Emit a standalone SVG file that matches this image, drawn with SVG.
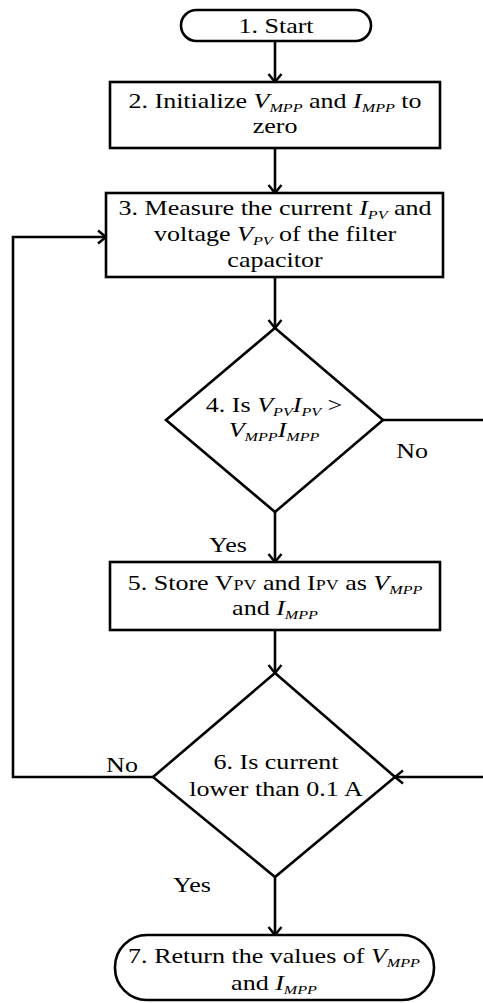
<svg xmlns="http://www.w3.org/2000/svg" width="483" height="1003" viewBox="0 0 483 1003">
<style>
.s{fill:none;stroke:#000;stroke-width:2.6}
.n{fill:#fff;stroke:#000;stroke-width:2.6}
text{font-family:'Liberation Serif','DejaVu Serif',serif;font-size:21px;fill:#000}
.c{text-anchor:middle}
.i{font-style:italic}
.sb{font-style:italic;font-size:13px}
.sc{font-size:14.5px}
</style>
<defs>
<marker id="ah" viewBox="-10 -8 12 16" markerWidth="12" markerHeight="16" refX="0" refY="0" markerUnits="userSpaceOnUse" orient="auto">
<path d="M-8,-6.5 L0,0 L-8,6.5" fill="none" stroke="#000" stroke-width="2.4"/>
</marker>
</defs>
<rect width="483" height="1003" fill="#fff"/>
<g id="connectors" class="s">
<line x1="275" y1="41" x2="275" y2="82" marker-end="url(#ah)"/>
<line x1="275" y1="148" x2="275" y2="193" marker-end="url(#ah)"/>
<line x1="275" y1="277" x2="275" y2="328" marker-end="url(#ah)"/>
<line x1="275" y1="512" x2="275" y2="562" marker-end="url(#ah)"/>
<line x1="275" y1="630" x2="275" y2="673" marker-end="url(#ah)"/>
<path d="M383,420 H486 V777 H395" marker-end="url(#ah)"/>
<path d="M153,777 H13 V237 H106" marker-end="url(#ah)"/>
<line x1="275" y1="877" x2="275" y2="935" marker-end="url(#ah)"/>
</g>
<g id="labels">
<text class="c" x="332.3" y="458" transform="scale(1.24,1)">No</text>
<text class="c" x="183.9" y="552" transform="scale(1.24,1)">Yes</text>
<text class="c" x="98.4" y="772" transform="scale(1.24,1)">No</text>
<text class="c" x="154.8" y="892" transform="scale(1.24,1)">Yes</text>
</g>
<g id="n1">
<rect class="n" x="181" y="10" width="190" height="31" rx="15.5" ry="15.5"/>
<text class="c" x="222.6" y="33" transform="scale(1.24,1)">1. Start</text>
</g>
<g id="n2">
<rect class="n" x="110" y="82" width="330" height="66"/>
<text class="c" x="221.8" y="108" transform="scale(1.24,1)">2. Initialize <tspan class="i">V</tspan><tspan class="sb" dy="4">MPP</tspan><tspan dy="-4"> and </tspan><tspan class="i">I</tspan><tspan class="sb" dy="4">MPP</tspan><tspan dy="-4"> to</tspan></text>
<text class="c" x="221.8" y="133" transform="scale(1.24,1)">zero</text>
</g>
<g id="n3">
<rect class="n" x="106" y="193" width="337" height="84"/>
<text class="c" x="221.8" y="215" transform="scale(1.24,1)">3. Measure the current <tspan class="i">I</tspan><tspan class="sb" dy="4">PV</tspan><tspan dy="-4"> and</tspan></text>
<text class="c" x="221.8" y="241" transform="scale(1.24,1)">voltage <tspan class="i">V</tspan><tspan class="sb" dy="4">PV</tspan><tspan dy="-4"> of the filter</tspan></text>
<text class="c" x="221.8" y="267" transform="scale(1.24,1)">capacitor</text>
</g>
<g id="n4">
<polygon class="n" points="275,328 383,420 275,512 166,420"/>
<text class="c" x="221" y="412" transform="scale(1.24,1)">4. Is <tspan class="i">V</tspan><tspan class="sb" dy="4">PV</tspan><tspan class="i" dy="-4">I</tspan><tspan class="sb" dy="4">PV</tspan><tspan dy="-4"> &gt;</tspan></text>
<text class="c" x="221" y="437" transform="scale(1.24,1)"><tspan class="i">V</tspan><tspan class="sb" dy="4">MPP</tspan><tspan class="i" dy="-4">I</tspan><tspan class="sb" dy="4">MPP</tspan></text>
</g>
<g id="n5">
<rect class="n" x="110" y="562" width="330" height="68"/>
<text class="c" x="221.8" y="590" transform="scale(1.24,1)">5. Store V<tspan class="sc">PV</tspan> and I<tspan class="sc">PV</tspan> as <tspan class="i">V</tspan><tspan class="sb" dy="4">MPP</tspan></text>
<text class="c" x="221.8" y="615" transform="scale(1.24,1)">and <tspan class="i">I</tspan><tspan class="sb" dy="4">MPP</tspan></text>
</g>
<g id="n6">
<polygon class="n" points="275,673 395,777 275,877 153,777"/>
<text class="c" x="222.6" y="769" transform="scale(1.24,1)">6. Is current</text>
<text class="c" x="222.6" y="796" transform="scale(1.24,1)">lower than 0.1 A</text>
</g>
<g id="n7">
<rect class="n" x="115" y="935" width="319" height="65" rx="32" ry="32"/>
<text class="c" x="221" y="963" transform="scale(1.24,1)">7. Return the values of <tspan class="i">V</tspan><tspan class="sb" dy="4">MPP</tspan></text>
<text class="c" x="221" y="990" transform="scale(1.24,1)">and <tspan class="i">I</tspan><tspan class="sb" dy="4">MPP</tspan></text>
</g>
</svg>
